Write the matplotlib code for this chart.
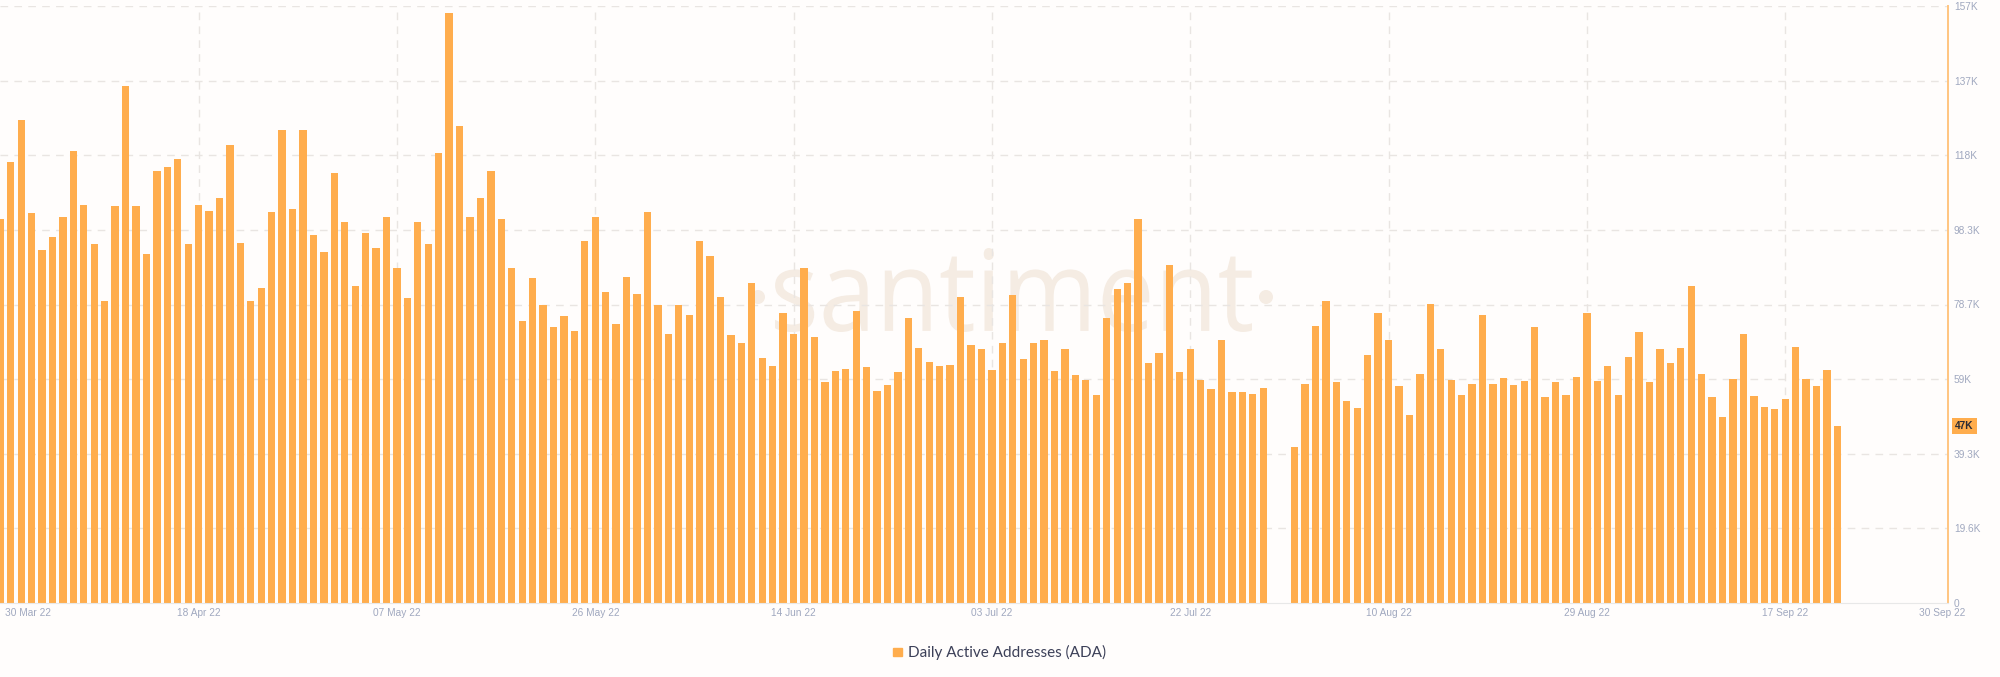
"""
Daily active addresses (ADA), santiment-style bar chart.
"""

import matplotlib

matplotlib.use("Agg")
import matplotlib.dates as mdates
import matplotlib.pyplot as plt
import numpy as np
import pandas as pd
from matplotlib.font_manager import FontProperties
from matplotlib.patches import Circle, PathPatch, Rectangle
from matplotlib.textpath import TextPath
from matplotlib.transforms import Affine2D, IdentityTransform

# daily active addresses, thousands; None = no data that day
START = "2022-03-30"
DAA_K = [
    101.3, 116.1, 127.2, 102.7, 92.9, 96.5, 101.7, 119.2, 104.9, 94.5,
    79.7, 104.5, 136.3, 104.5, 91.9, 113.9, 115.0, 117.1, 94.7, 104.9,
    103.2, 106.6, 120.8, 94.9, 79.7, 82.9, 103.0, 124.7, 103.8, 124.7,
    96.9, 92.5, 113.4, 100.4, 83.4, 97.6, 93.6, 101.8, 88.2, 80.3,
    100.4, 94.6, 118.6, 155.5, 125.6, 101.6, 106.8, 113.8, 101.2, 88.2,
    74.2, 85.7, 78.4, 72.7, 75.6, 71.7, 95.3, 101.8, 82.0, 73.6,
    85.8, 81.5, 102.9, 78.5, 70.8, 78.5, 75.8, 95.3, 91.3, 80.6,
    70.5, 68.6, 84.4, 64.6, 62.4, 76.4, 71.0, 88.3, 70.1, 58.3,
    61.2, 61.6, 76.9, 62.3, 55.8, 57.4, 60.9, 75.1, 67.3, 63.5,
    62.4, 62.6, 80.6, 67.9, 67.0, 61.5, 68.4, 81.1, 64.2, 68.6,
    69.3, 61.0, 66.8, 60.0, 58.7, 54.8, 75.0, 82.7, 84.4, 101.1,
    63.2, 66.0, 89.1, 60.9, 66.8, 58.7, 56.3, 69.3, 55.6, 55.6,
    55.0, 56.7, None, None, 41.1, 57.7, 72.9, 79.6, 58.3, 53.1,
    51.3, 65.4, 76.4, 69.3, 57.1, 49.5, 60.4, 78.9, 66.8, 58.8,
    54.7, 57.7, 75.8, 57.8, 59.2, 57.5, 58.6, 72.8, 54.2, 58.3,
    54.7, 59.6, 76.4, 58.6, 62.4, 54.7, 64.8, 71.4, 58.2, 66.9,
    63.3, 67.3, 83.4, 60.4, 54.3, 48.9, 59.0, 71.0, 54.5, 51.7,
    51.1, 53.7, 67.5, 59.1, 57.1, 61.3, 46.7,
]

X_TICKS = ["2022-03-30", "2022-04-18", "2022-05-07", "2022-05-26", "2022-06-14",
           "2022-07-03", "2022-07-22", "2022-08-10", "2022-08-29", "2022-09-17",
           "2022-09-30"]
X_TICK_LABELS = ["30 Mar 22", "18 Apr 22", "07 May 22", "26 May 22", "14 Jun 22",
                 "03 Jul 22", "22 Jul 22", "10 Aug 22", "29 Aug 22", "17 Sep 22",
                 "30 Sep 22"]
Y_MAX_K = 157.3
Y_TICK_LABELS = ["0", "19.6K", "39.3K", "59K", "78.7K", "98.3K", "118K", "137K", "157K"]
LAST_LABEL = "47K"
LEGEND_LABEL = "Daily Active Addresses (ADA)"

ORANGE = "#ffad4d"
GRID = "#e9e5e2"
TICK_COLOR = "#a0a8bf"
BG = "#fffdfc"
WATERMARK = "#f5ece3"
W, H = 2000, 677  # figure size in px, for placing things by pixel


def add_watermark(ax) -> None:
    # condensed "santiment" word mark, placed in pixel coords
    tp = TextPath((0, 0), "santiment", size=100, prop=FontProperties(family="Open Sans"))
    bb = tp.get_extents()
    left, right, bottom, top = 775, 1252, H - 332, H - 248
    tr = (Affine2D().translate(-bb.x0, -bb.y0)
          .scale((right - left) / bb.width, (top - bottom) / bb.height)
          .translate(left, bottom))
    ax.add_artist(PathPatch(tr.transform_path(tp), transform=IdentityTransform(),
                            fc=WATERMARK, ec="none", zorder=0.5))
    for cx in (758, 1266):
        ax.add_artist(Circle((cx, H - 297), 7, transform=IdentityTransform(),
                             fc=WATERMARK, ec="none", zorder=0.5))


def main() -> None:
    dates = pd.date_range(START, periods=len(DAA_K), freq="D")
    vals = np.array([np.nan if v is None else v for v in DAA_K], dtype=float)
    keep = ~np.isnan(vals)

    fig = plt.figure(figsize=(W / 100, H / 100), dpi=100, facecolor=BG)
    ax = fig.add_axes([0, (H - 603) / H, 1948 / W, 597 / H])
    ax.set_facecolor(BG)

    add_watermark(ax)

    ax.bar(dates[keep], vals[keep], width=0.7, color=ORANGE, zorder=2)

    x0 = mdates.date2num(pd.Timestamp(START))
    ax.set_xlim(x0 - 0.03, x0 + 186.6)
    ax.set_ylim(0, Y_MAX_K)

    tick_font = dict(family="Liberation Sans", size=7.3)
    yticks = np.linspace(0, Y_MAX_K, len(Y_TICK_LABELS))
    ax.yaxis.tick_right()
    ax.set_yticks(yticks)
    ax.set_yticklabels(Y_TICK_LABELS, fontdict=tick_font)
    ax.tick_params(axis="y", length=0, pad=4.3, labelcolor=TICK_COLOR)
    for lbl in ax.get_yticklabels():
        lbl.set_horizontalalignment("left")

    xt = pd.to_datetime(X_TICKS)
    ax.set_xticks(xt)
    ax.set_xticklabels(X_TICK_LABELS, fontdict=tick_font)
    ax.tick_params(axis="x", length=0, pad=3.8, labelcolor=TICK_COLOR)
    # the two end labels are nudged inwards/outwards like the santiment UI does
    xlabels = ax.get_xticklabels()
    xlabels[0].set_visible(False)
    xlabels[-1].set_visible(False)
    fig.text(5 / W, (H - 613) / H, X_TICK_LABELS[0], ha="left", va="center",
             color=TICK_COLOR, **tick_font)
    fig.text(1942 / W, (H - 613) / H, X_TICK_LABELS[-1], ha="center", va="center",
             color=TICK_COLOR, **tick_font)

    for y in yticks[1:]:
        ax.axhline(y, color=GRID, lw=1, ls=(0, (5.5, 4.5)), zorder=1)
    for d in xt[1:-1]:
        ax.axvline(d, color=GRID, lw=1, ls=(0, (5.5, 4.5)), zorder=1)

    for side in ("top", "left"):
        ax.spines[side].set_visible(False)
    ax.spines["bottom"].set_color("#e8e8e8")
    ax.spines["right"].set_color("#ffc580")
    ax.spines["right"].set_linewidth(1.4)

    # last value badge
    ax.text(1.0036, DAA_K[-1] / Y_MAX_K, LAST_LABEL, transform=ax.transAxes, ha="left",
            va="center", family="Liberation Sans", fontsize=7.3, fontweight="bold",
            color="#2b2b33", bbox=dict(boxstyle="square,pad=0.3", fc=ORANGE, ec="none"))

    # legend
    fig.patches.append(Rectangle((893 / W, (H - 656) / H), 9 / W, 8.5 / H,
                                 transform=fig.transFigure, color=ORANGE, figure=fig))
    fig.text(908 / W, (H - 652) / H, LEGEND_LABEL, ha="left", va="center",
             fontsize=11, color="#3c4058", family="Lato")

    fig.savefig("out.png", dpi=100, facecolor=BG)
    plt.close(fig)


if __name__ == "__main__":
    main()
